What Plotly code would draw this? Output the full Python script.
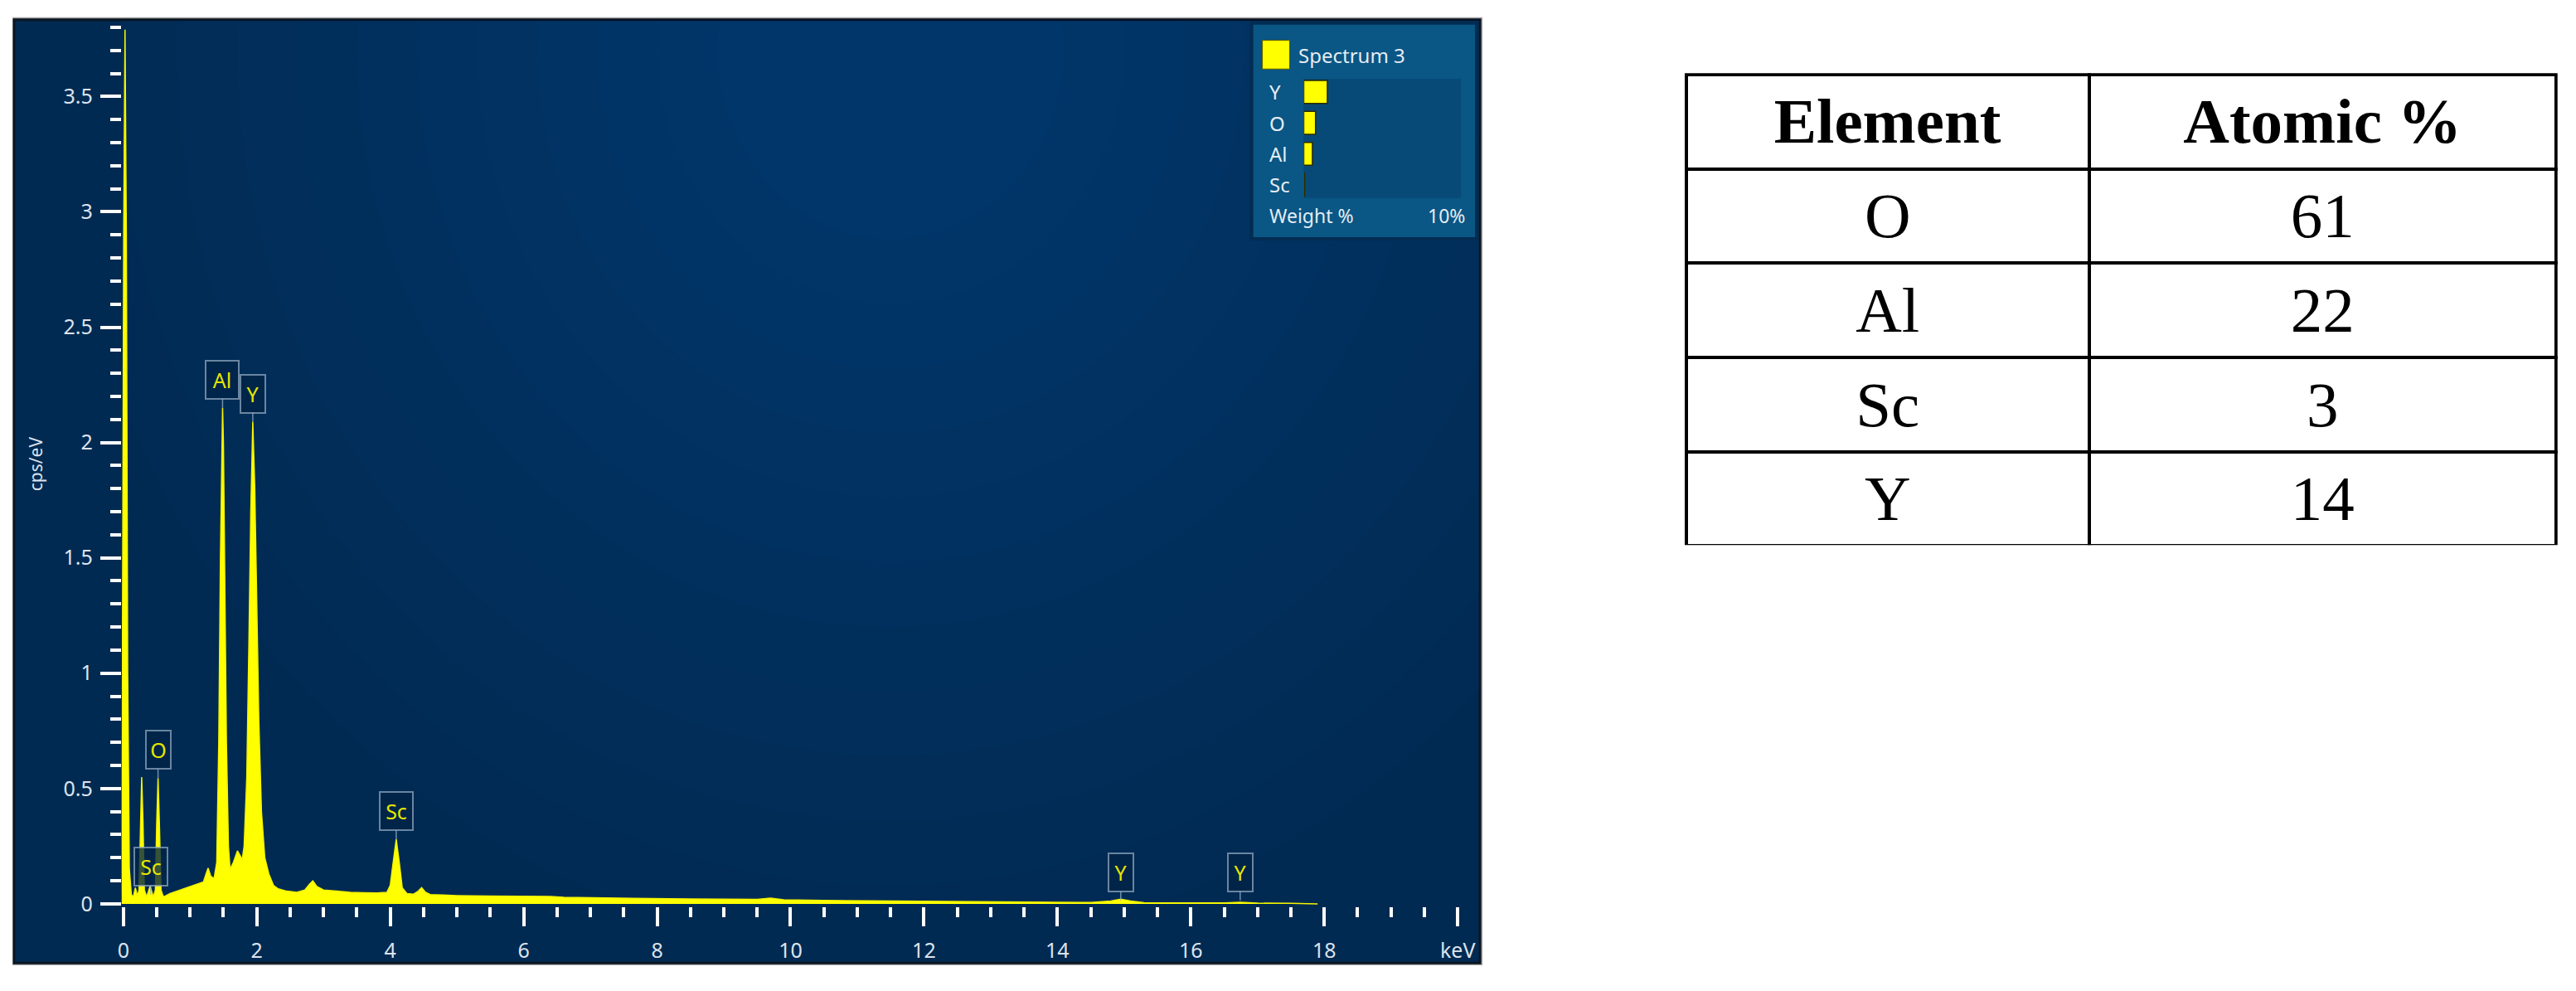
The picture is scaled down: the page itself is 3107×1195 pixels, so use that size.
"""EDS spectrum (Spectrum 3) with atomic % table, rebuilt in Plotly."""

import plotly.graph_objects as go

W, H = 3107, 1195
BODY = 8  # default page margin around the plot div
FW, FH = W - 2 * BODY, H - 2 * BODY

# --- spectrum (keV, cps/eV) ---
energy_kev = [
    -0.07, -0.04, -0.015, 0.005, 0.025, 0.045, 0.065, 0.09, 0.12, 0.15,
    0.18, 0.21, 0.235, 0.255, 0.275, 0.295, 0.315, 0.35, 0.40, 0.45,
    0.48, 0.50, 0.52, 0.54, 0.565, 0.60, 0.70, 0.80, 0.90, 1.00,
    1.10, 1.20, 1.24, 1.27, 1.31, 1.36, 1.40, 1.43, 1.455, 1.475,
    1.487, 1.50, 1.52, 1.545, 1.575, 1.60, 1.65, 1.71, 1.75, 1.78,
    1.81, 1.85, 1.88, 1.91, 1.94, 1.97, 2.00, 2.03, 2.07, 2.12,
    2.18, 2.25, 2.32, 2.45, 2.60, 2.72, 2.79, 2.84, 2.90, 3.00,
    3.20, 3.40, 3.60, 3.80, 3.95, 4.00, 4.04, 4.09, 4.14, 4.18,
    4.25, 4.35, 4.42, 4.47, 4.53, 4.60, 4.80, 5.00, 5.50, 6.00,
    6.40, 6.60, 7.00, 7.50, 8.00, 8.50, 9.00, 9.50, 9.70, 9.90,
    10.5, 11.0, 11.5, 12.0, 12.5, 13.0, 13.5, 14.0, 14.5, 14.8,
    14.95, 15.1, 15.3, 16.0, 16.5, 16.74, 17.0, 17.5, 17.9,
]
cps_per_ev = [
    0.0, 0.05, 1.0, 2.9, 3.79, 2.9, 1.0, 0.15, 0.04, 0.03,
    0.07, 0.035, 0.06, 0.35, 0.55, 0.35, 0.06, 0.03, 0.075, 0.03,
    0.06, 0.35, 0.545, 0.35, 0.06, 0.03, 0.045, 0.055, 0.065, 0.075,
    0.085, 0.095, 0.13, 0.155, 0.12, 0.11, 0.18, 0.7, 1.5, 2.0,
    2.15, 2.0, 1.5, 0.7, 0.25, 0.15, 0.18, 0.23, 0.21, 0.19,
    0.25, 0.55, 1.1, 1.7, 2.09, 1.8, 1.3, 0.8, 0.4, 0.2,
    0.13, 0.08, 0.065, 0.055, 0.05, 0.06, 0.085, 0.10, 0.075, 0.06,
    0.055, 0.05, 0.048, 0.047, 0.05, 0.08, 0.17, 0.28, 0.17, 0.07,
    0.045, 0.042, 0.055, 0.07, 0.05, 0.04, 0.038, 0.036, 0.034, 0.033,
    0.032, 0.028, 0.026, 0.025, 0.022, 0.021, 0.02, 0.019, 0.025, 0.018,
    0.015, 0.014, 0.012, 0.01, 0.009, 0.008, 0.007, 0.006, 0.006, 0.012,
    0.02, 0.012, 0.005, 0.004, 0.004, 0.007, 0.003, 0.002, 0.0,
]

# peak markers
label_elements = ["Sc", "O", "Al", "Y", "Sc", "Y", "Y"]
label_energies = [0.41, 0.52, 1.487, 1.94, 4.09, 14.95, 16.74]
label_heights = [0.04, 0.545, 2.15, 2.09, 0.28, 0.015, 0.015]

# axis ticks
x_tickvals = [0, 2, 4, 6, 8, 10, 12, 14, 16, 18, 20]
x_ticktext = ["0", "2", "4", "6", "8", "10", "12", "14", "16", "18", "keV"]
x_mid_tickvals = [1, 3, 5, 7, 9, 11, 13, 15, 17, 19]
y_tickvals = [0, 0.5, 1, 1.5, 2, 2.5, 3, 3.5]
y_ticktext = ["0", "0.5", "1", "1.5", "2", "2.5", "3", "3.5"]

# inset legend bars (Weight %, scale 0-10 %)
legend_elements = ["Y", "O", "Al", "Sc"]
legend_weight = [1.5, 0.75, 0.55, 0.05]

# table
table_header = ["<b>Element</b>", "<b>Atomic %</b>"]
table_elements = ["O", "Al", "Sc", "Y"]
table_atomic = ["61", "22", "3", "14"]

# plot area in page pixels; 0 keV sits at x=144, 80.6 px per keV
P_X0, P_X1 = 142, 1782
P_Y0, P_Y1 = 25, 1104.4
X_RANGE = [(P_X0 - 144) / 80.6, (P_X1 - 144) / 80.6]
Y_RANGE = [-0.012, 3.829]


def px(x):
    return (x - BODY) / FW


def py(y):
    return 1 - (y - BODY) / FH


def kx(x):
    # page pixel -> keV on the main axis (for the legend box decoration)
    return X_RANGE[0] + (x - P_X0) / (P_X1 - P_X0) * (X_RANGE[1] - X_RANGE[0])


def ky(y):
    return Y_RANGE[0] + (P_Y1 - y) / (P_Y1 - P_Y0) * (Y_RANGE[1] - Y_RANGE[0])


TICK_FONT = dict(family="Noto Sans", size=25, color="#dce4ee")
LEG_FONT = dict(family="Noto Sans", size=24, color="#e4ecf4")
PANEL = "#012a52"
YELLOW = "#ffff00"
CLEAR = "rgba(0,0,0,0)"

fig = go.Figure()

fig.add_trace(go.Scatter(
    x=energy_kev, y=cps_per_ev,
    mode="lines",
    line=dict(color="#f4f400", width=1.5),
    fill="tozeroy", fillcolor=YELLOW,
    showlegend=False, hoverinfo="skip",
    xaxis="x", yaxis="y",
))

# inset bars in the legend box
fig.add_trace(go.Bar(
    x=legend_weight, y=legend_elements, orientation="h",
    marker=dict(color=YELLOW, line=dict(color="#2a2a00", width=1.5)),
    width=0.74, base=0,
    showlegend=False, hoverinfo="skip",
    xaxis="x2", yaxis="y2",
))

# table: grid first, then header text and cell text laid over it
table_top, table_bottom = 91, 660
ROW_H = 113.6
table_x = [px(2032), px(3083)]
col_w = [486, 563]
cell_font = dict(family="Liberation Serif", size=77, color="black")


def table_dom(shift):
    return dict(x=table_x, y=[py(table_bottom + 4 + shift), py(table_top + shift)])


fig.add_trace(go.Table(
    domain=table_dom(0), columnwidth=col_w,
    header=dict(values=["", ""], height=ROW_H, fill_color="white",
                line=dict(color="black", width=4)),
    cells=dict(values=[[""] * len(table_elements), [""] * len(table_atomic)],
               height=ROW_H, fill_color="white",
               line=dict(color="black", width=4)),
))
fig.add_trace(go.Table(
    domain=table_dom(5), columnwidth=col_w,
    header=dict(values=table_header, height=ROW_H, align="center",
                fill_color=CLEAR, line=dict(color=CLEAR, width=0), font=cell_font),
    cells=dict(values=[[], []], height=ROW_H, fill_color=CLEAR,
               line=dict(color=CLEAR, width=0)),
))
fig.add_trace(go.Table(
    domain=table_dom(17), columnwidth=col_w,
    header=dict(values=["", ""], height=ROW_H, fill_color=CLEAR,
                line=dict(color=CLEAR, width=0)),
    cells=dict(values=[table_elements, table_atomic], height=ROW_H,
               align="center", fill_color=CLEAR,
               line=dict(color=CLEAR, width=0), font=cell_font),
))

shapes = []
# panel with shadow and dark border
shapes.append(dict(type="rect", xref="paper", yref="paper",
                   x0=px(10), x1=px(1786), y0=py(1176), y1=py(21),
                   fillcolor="#a8a8a8", line=dict(width=0), layer="below"))
shapes.append(dict(type="rect", xref="paper", yref="paper",
                   x0=px(12), x1=px(1783), y0=py(1173), y1=py(24),
                   fillcolor=PANEL, line=dict(color="#0b1622", width=3), layer="below"))
# soft glow toward the top middle (clipped to the plot area)
for i in range(12):
    rx = 12.5 - i * 0.9
    ry = 3.9 - i * 0.28
    shapes.append(dict(type="circle", xref="x", yref="y",
                       x0=11.5 - rx, x1=11.5 + rx, y0=3.7 - ry, y1=3.7 + ry,
                       fillcolor="#1a6aa5", opacity=0.028, line=dict(width=0),
                       layer="below"))
# legend box, same layer as the glow and listed after it
shapes.append(dict(type="rect", xref="x", yref="y",
                   x0=kx(1507), x1=kx(1779), y0=ky(291), y1=ky(28),
                   fillcolor="#0a5684", line=dict(color="#022c52", width=4), layer="below"))
shapes.append(dict(type="rect", xref="x", yref="y",
                   x0=kx(1570), x1=kx(1760), y0=ky(241), y1=ky(96),
                   fillcolor="#074a78", line=dict(width=0), layer="below"))
shapes.append(dict(type="rect", xref="x", yref="y",
                   x0=kx(1520), x1=kx(1553), y0=ky(84), y1=ky(49),
                   fillcolor=YELLOW, line=dict(color="#5a5a00", width=1), layer="below"))

annotations = []
for el, ex, ey in zip(label_elements, label_energies, label_heights):
    annotations.append(dict(
        x=ex, y=ey, xref="x", yref="y", text=el,
        showarrow=True, ax=0, ay=-34, arrowhead=0, arrowwidth=1.5,
        arrowcolor="rgba(150,175,200,0.75)",
        font=dict(family="Noto Sans", size=25, color="#e6e600"),
        bgcolor="rgba(0,36,70,0.78)", bordercolor="rgba(140,165,190,0.75)",
        borderwidth=2, borderpad=4, height=36, width=30 if len(el) > 1 else 20,
    ))

for el in legend_elements:
    annotations.append(dict(
        x=px(1526), y=el, xref="paper", yref="y2", text=el, showarrow=False,
        xanchor="left", yanchor="middle", font=LEG_FONT,
    ))

annotations += [
    dict(x=px(1562), y=py(67), xref="paper", yref="paper", text="Spectrum 3",
         showarrow=False, xanchor="left", yanchor="middle", font=LEG_FONT),
    dict(x=px(1526), y=py(263), xref="paper", yref="paper", text="Weight %",
         showarrow=False, xanchor="left", yanchor="middle",
         font=dict(LEG_FONT, size=23)),
    dict(x=px(1767), y=py(263), xref="paper", yref="paper", text="10%",
         showarrow=False, xanchor="right", yanchor="middle",
         font=dict(LEG_FONT, size=23)),
    dict(x=px(38), y=py(565), xref="paper", yref="paper", text="cps/eV",
         showarrow=False, textangle=-90, xanchor="center", yanchor="middle",
         font=dict(family="Noto Sans", size=21, color="#dce4ee")),
]

fig.update_layout(
    width=FW, height=FH, autosize=False,
    margin=dict(l=0, r=0, t=0, b=0, pad=0),
    paper_bgcolor="white", plot_bgcolor=CLEAR,
    shapes=shapes, annotations=annotations,
    xaxis=dict(
        domain=[px(P_X0), px(P_X1)], range=X_RANGE, anchor="y",
        showgrid=False, zeroline=False, showline=False,
        tickvals=x_tickvals, ticktext=x_ticktext,
        ticks="outside", ticklen=23, tickwidth=4, tickcolor="white",
        tickfont=TICK_FONT, ticklabelstandoff=8,
        minor=dict(dtick=0.5, tick0=0, ticks="outside", ticklen=12,
                   tickwidth=4, tickcolor="white", showgrid=False),
    ),
    xaxis3=dict(
        overlaying="x", anchor="y", side="bottom", matches="x", range=X_RANGE,
        showgrid=False, zeroline=False, showline=False, showticklabels=False,
        tickvals=x_mid_tickvals, ticks="outside", ticklen=17, tickwidth=4,
        tickcolor="white",
    ),
    yaxis=dict(
        domain=[py(P_Y1), py(P_Y0)], range=Y_RANGE, anchor="x",
        showgrid=False, zeroline=False, showline=False,
        tickvals=y_tickvals, ticktext=y_ticktext,
        ticks="outside", ticklen=25, tickwidth=4, tickcolor="white",
        tickfont=TICK_FONT, ticklabelstandoff=4,
        minor=dict(dtick=0.1, tick0=0, ticks="outside", ticklen=13,
                   tickwidth=4, tickcolor="white", showgrid=False),
    ),
    xaxis2=dict(domain=[px(1570), px(1760)], range=[0, 10], anchor="y2",
                visible=False, fixedrange=True),
    yaxis2=dict(domain=[py(244), py(93)], anchor="x2", type="category",
                categoryorder="array", categoryarray=legend_elements,
                autorange="reversed", visible=False, fixedrange=True),
)

fig.write_html("out.html")
